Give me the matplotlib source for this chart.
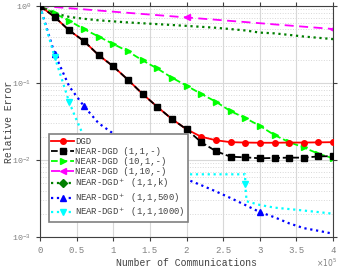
import numpy as np
import matplotlib.pyplot as plt
from matplotlib.ticker import LogLocator, NullFormatter, FuncFormatter

plt.rcParams['font.family'] = ['Liberation Mono', 'DejaVu Sans Mono']
plt.rcParams['mathtext.fontset'] = 'dejavusans'

# communications (x 1e5)
x = [0, 0.2, 0.4, 0.6, 0.8, 1.0, 1.2, 1.4, 1.6, 1.8, 2.0,
     2.2, 2.4, 2.6, 2.8, 3.0, 3.2, 3.4, 3.6, 3.8, 4.0]

dgd = [1, 0.72, 0.48, 0.35, 0.23, 0.164, 0.11, 0.072, 0.049, 0.034, 0.025,
       0.020, 0.018, 0.017, 0.0168, 0.0167, 0.0167, 0.0168, 0.0168, 0.0169, 0.017]
near_111 = [1, 0.72, 0.48, 0.35, 0.23, 0.164, 0.11, 0.072, 0.049, 0.034, 0.025,
            0.017, 0.013, 0.011, 0.0108, 0.0105, 0.0106, 0.0107, 0.0107, 0.0111, 0.0112]
near_1011 = [1, 0.8, 0.64, 0.5, 0.40, 0.32, 0.257, 0.196, 0.154, 0.117, 0.092,
             0.072, 0.057, 0.043, 0.035, 0.0277, 0.021, 0.017, 0.0145, 0.012, 0.0105]
near_1110 = [1, 0.966, 0.933, 0.902, 0.871, 0.841, 0.813, 0.785, 0.759, 0.733, 0.708,
             0.684, 0.661, 0.638, 0.617, 0.596, 0.575, 0.556, 0.537, 0.519, 0.501]
plus_k = [1, 0.8, 0.72, 0.68, 0.65, 0.63, 0.61, 0.595, 0.58, 0.565, 0.55,
          0.535, 0.52, 0.50, 0.48, 0.45, 0.44, 0.42, 0.40, 0.385, 0.37]
plus_500 = [1, 0.24, 0.09, 0.05, 0.03, 0.022, 0.017, 0.013, 0.0095, 0.0072, 0.0056,
            0.0047, 0.0039, 0.0032, 0.0026, 0.0021, 0.0018, 0.0015, 0.0013, 0.0012, 0.0011]

x_1000 = [0, 0.2, 0.4, 0.5, 0.6, 0.8, 1.0, 1.2, 1.6, 2.0, 2.4, 2.8, 2.8, 2.82,
          3.0, 3.2, 3.4, 3.6, 3.8, 4.0]
plus_1000 = [1, 0.22, 0.056, 0.033, 0.02, 0.011, 0.0078, 0.0068, 0.0066, 0.0065, 0.0065,
             0.0065, 0.0048, 0.0029, 0.0026, 0.0024, 0.0023, 0.0022, 0.0021, 0.0020]

fig = plt.figure(figsize=(3.41, 2.68), dpi=100)
ax = fig.add_axes([0.117, 0.116, 0.86, 0.862])

ms = 4
lw = 1.3
ax.plot(x, near_111, '--s', color='black', lw=lw, ms=ms, label='NEAR-DGD (1,1,-)', zorder=3)
ax.plot(x, dgd, '-o', color='red', lw=lw, ms=ms, label='DGD', zorder=2.9)
ax.plot(x, near_1011, '-->', color='#00ff00', lw=lw, ms=ms + 1, label='NEAR-DGD (10,1,-)')
ax.plot(x, near_1110, '--<', color='magenta', lw=lw, ms=ms + 1, markevery=10,
        dashes=(5, 3), label='NEAR-DGD (1,10,-)')
ax.plot(x, plus_k, ':D', color='#007f00', lw=1.6, ms=ms, markevery=[0],
        label='NEAR-DGD$^+$ (1,1,k)')
ax.plot(x, plus_500, ':^', color='blue', lw=1.6, ms=ms + 1, markevery=[0, 1, 3, 15],
        label='NEAR-DGD$^+$ (1,1,500)')
ax.plot(x_1000, plus_1000, ':v', color='cyan', lw=1.6, ms=ms + 1, markevery=[0, 1, 2, 12],
        label='NEAR-DGD$^+$ (1,1,1000)')

ax.set_yscale('log')
ax.set_xlim(0, 4)
ax.set_ylim(1e-3, 1)
ax.set_xticks(np.arange(0, 4.01, 0.5))
ax.xaxis.set_major_formatter(FuncFormatter(lambda v, p: '%g' % v))
ax.yaxis.set_minor_locator(LogLocator(base=10, subs=np.arange(2, 10)))
ax.yaxis.set_minor_formatter(NullFormatter())
ax.text(1.015, -0.113, r'$\times10^5$', transform=ax.transAxes, ha='right', va='center',
        fontsize=5.5, color='#808080')

ax.grid(True, which='major', color='#d8d8d8', lw=0.8)
ax.grid(True, which='minor', axis='y', color='#d8d8d8', ls=':', lw=0.7)
ax.tick_params(which='both', direction='out', top=True, right=True,
               labelsize=6.5, labelcolor='#808080', color='#404040', length=3)
ax.tick_params(axis='y', labelsize=6)
ax.tick_params(which='minor', length=0)
for s in ax.spines.values():
    s.set_color('#404040')

ax.set_xlabel('Number of Communications', fontsize=7, color='#404040', labelpad=2)
ax.set_ylabel('Relative Error', fontsize=7, color='#404040')
ax.yaxis.set_label_coords(-0.088, 0.5)

handles, labels = ax.get_legend_handles_labels()
order = [1, 0, 2, 3, 4, 5, 6]
leg = ax.legend([handles[i] for i in order], [labels[i] for i in order],
                loc='lower left', bbox_to_anchor=(0.015, 0.045), fontsize=6.4,
                handlelength=2.5, labelspacing=0.1, borderpad=0.3,
                handletextpad=0.2, fancybox=False, framealpha=1,
                labelcolor='#404040')
leg.get_frame().set_edgecolor('#808080')
leg.get_frame().set_linewidth(1.2)

fig.savefig('out.png', dpi=100)
